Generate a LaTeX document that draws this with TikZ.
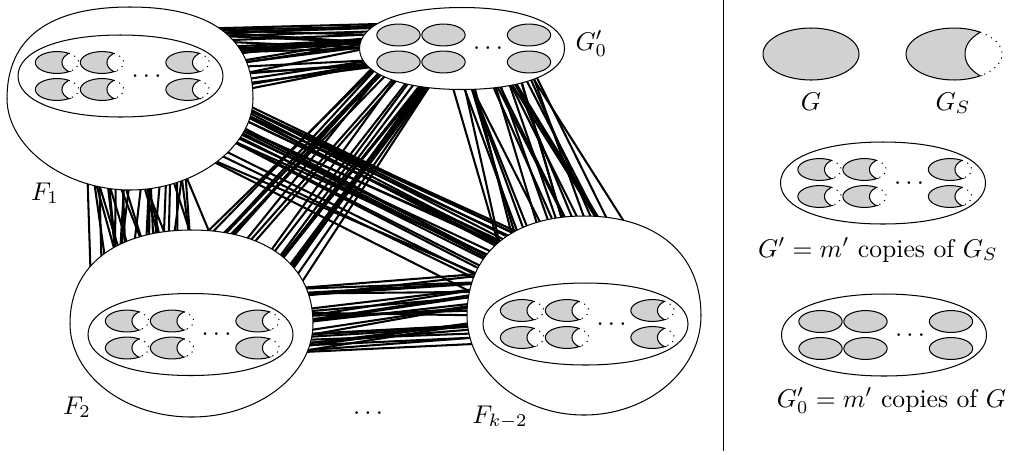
\documentclass[tikz,border=0pt]{standalone}
\tikzset{
  outl/.style={line width=0.4pt},
  edge/.style={line width=0.8pt},
  shapefill/.style={fill=black!18},
  lbl/.style={inner sep=0pt, anchor=base}
}
% outer blob: cx, cy, a, b, k_top, k_bottom
\newcommand\myBlob[6]{%
  \draw[outl,fill=white] ({#1+#3},#2)
    .. controls ({#1+#3},{#2-#5*#4}) and ({#1+#5*#3},{#2-#4}) .. (#1,{#2-#4})
    .. controls ({#1-#5*#3},{#2-#4}) and ({#1-#3},{#2-#5*#4}) .. ({#1-#3},#2)
    .. controls ({#1-#3},{#2+#6*#4}) and ({#1-#6*#3},{#2+#4}) .. (#1,{#2+#4})
    .. controls ({#1+#6*#3},{#2+#4}) and ({#1+#3},{#2+#6*#4}) .. ({#1+#3},#2) -- cycle;}
% container (G' / G'_0 outline)
\newcommand\myCont[2]{%
  \begin{scope}[shift={(#1,#2)}]
  \draw[outl,fill=white] (102.5,0)
    .. controls (102.5,-24.6) and (61.5,-41) .. (0,-41)
    .. controls (-61.5,-41) and (-102.5,-24.6) .. (-102.5,0)
    .. controls (-102.5,24.6) and (-61.5,41) .. (0,41)
    .. controls (61.5,41) and (102.5,24.6) .. (102.5,0) -- cycle;
  \end{scope}}
% G_S shape
\newcommand\myGS[3][xscale=0.45,yscale=0.42]{%
  \begin{scope}[shift={(#2,#3)},#1]
  \draw[outl,shapefill] plot[domain=57:303,samples=40] ({48*cos(\x)},{26*sin(\x)})
     .. controls (15,-15) and (11,-8) .. (11,0)
     .. controls (11,8) and (15,15) .. (26,21.8) -- cycle;
  \draw[outl,dash pattern=on 0.45pt off 1.9pt] plot[domain=-57:57,samples=30] ({48*cos(\x)},{26*sin(\x)});
  \end{scope}}
% G shape
\newcommand\myG[3][xscale=0.45,yscale=0.42]{%
  \begin{scope}[shift={(#2,#3)},#1]
  \draw[outl,shapefill] plot[domain=0:360,samples=73] ({48*cos(\x)},{26*sin(\x)}) -- cycle;
  \end{scope}}
\newcommand\myGSgroup[2]{%
  \myCont{#1}{#2}%
  \begin{scope}[shift={(#1,#2)}]
    \foreach \cx in {-63.5,-18.5,67}{\foreach \cy in {-13.5,13.5}{\myGS{\cx}{\cy}}}
    \node[lbl] at (26,6) {$\cdots$};
  \end{scope}}
\newcommand\myGgroup[2]{%
  \myCont{#1}{#2}%
  \begin{scope}[shift={(#1,#2)}]
    \foreach \cx in {-63.5,-18.5,67}{\foreach \cy in {-13.5,13.5}{\myG{\cx}{\cy}}}
    \node[lbl] at (26,6) {$\cdots$};
  \end{scope}}
% bundles of edges between two endpoint ellipses
\newcommand\setA[6]{\def\qAx{#1}\def\qAy{#2}\def\qAa{#3}\def\qAb{#4}\def\qAs{#5}\def\qAd{#6}}
\newcommand\setB[6]{\def\qBx{#1}\def\qBy{#2}\def\qBa{#3}\def\qBb{#4}\def\qBs{#5}\def\qBd{#6}}
\newcommand\myBundle[2]{%
  \foreach \i in {1,...,#1}{%
    \pgfmathsetmacro\quu{rnd}%
    \pgfmathsetmacro\qww{\quu+#2*(rnd-0.5)}%
    \pgfmathsetmacro\qta{\qAs+\qAd*\quu}%
    \pgfmathsetmacro\qtb{\qBs+\qBd*\qww}%
    \draw[edge] ({\qAx+\qAa*cos(\qta)},{\qAy+\qAb*sin(\qta)}) -- ({\qBx+\qBa*cos(\qtb)},{\qBy+\qBb*sin(\qtb)});
  }}
\begin{document}
\begin{tikzpicture}[x=0.39pt,y=-0.39pt]
\fill[white] (0,0) rectangle (1020,454);
\useasboundingbox (0,0) rectangle (1020,454);
\pgfmathsetseed{42}
% F1 - G0'
\setA{130}{98.5}{115}{83}{-58}{58}\setB{462}{48.5}{94}{34}{214}{(-68)}\myBundle{30}{0.6}
% F1 - F2
\setA{130}{98.5}{115}{83}{113}{(-52)}\setB{191.5}{323.5}{113}{85}{-144}{55}\myBundle{30}{0.4}
% F1 - Fk
\setA{130}{98.5}{115}{83}{3}{44}\setB{584}{315.5}{109}{91}{237}{(-38)}\myBundle{26}{0.35}
% G0' - F2
\setA{462}{48.5}{94}{34}{155}{(-48)}\setB{191.5}{323.5}{113}{85}{-84}{54}\myBundle{28}{0.35}
% G0' - Fk
\setA{462}{48.5}{94}{34}{97}{(-57)}\setB{584}{315.5}{109}{91}{-130}{54}\myBundle{26}{0.6}
% F2 - Fk
\setA{191.5}{323.5}{113}{85}{-26}{46}\setB{584}{315.5}{109}{91}{203}{(-34)}\myBundle{28}{0.6}
% blobs
\myBlob{130}{98.5}{123}{91.5}{0.66}{0.53}
\myBlob{191.5}{323.5}{121.5}{93.5}{0.62}{0.55}
\myBlob{584}{315.5}{117}{99.5}{0.62}{0.55}
\myGgroup{462}{48.5}
\myGSgroup{120.5}{76}
\myGSgroup{190.5}{334.5}
\myGSgroup{585.5}{324}
% labels
\node[lbl] (lF1) at (45,200) {$F_1$};
\node[lbl] (lF2) at (77,414) {$F_2$};
\node[lbl] (lFk) at (500,423) {$F_{k-2}$};
\node[lbl] (ldots) at (368,419) {$\cdots$};
\node[lbl,anchor=base west] (lG0) at (575,50) {$G_0'$};
% divider
\coordinate (dtop) at (723,0);
\coordinate (dbot) at (723,451);
\draw[line width=0.4pt] (dtop) -- (dbot);
% legend
\myG[]{811}{54}
\myGS[]{954}{54}
\node[lbl] (lG) at (811,110) {$G$};
\node[lbl] (lGS) at (953,110) {$G_S$};
\myGSgroup{883}{183}
\node[lbl] (lGp) at (878,257) {$G' = m'$ copies of $G_S$};
\myGgroup{884}{335}
\node[lbl] (lG0p) at (891.5,407) {$G_0' = m'$ copies of $G$};
\end{tikzpicture}
\end{document}
